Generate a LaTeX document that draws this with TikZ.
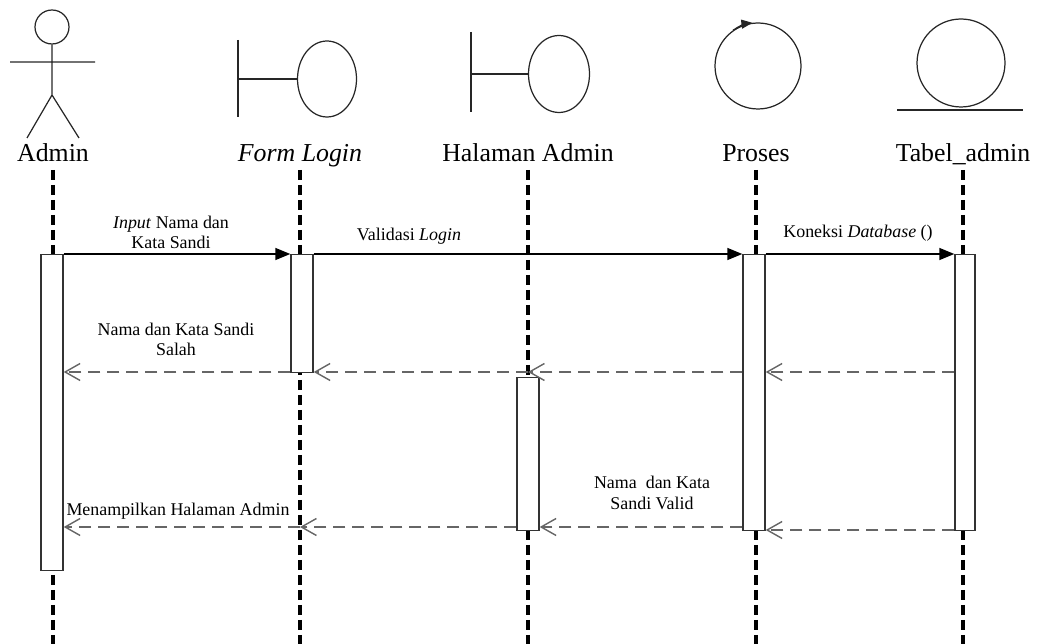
\documentclass[tikz,border=0pt]{standalone}
\usepackage{fontspec}
\setmainfont{Liberation Serif}
\usetikzlibrary{positioning, arrows.meta, shapes.geometric}

\begin{document}
\begin{tikzpicture}[x=0.02cm, y=-0.02cm,
        head_label/.style={font=\fontsize{14.7}{17}\selectfont, inner sep=0pt, anchor=base},
        msg_label/.style={font=\fontsize{10.2}{11.5}\selectfont, align=center, inner sep=0pt},
        head_shape/.style={draw=black!85, line width=0.7pt, inner sep=0pt},
        life_line/.style={black, line width=2pt, dash pattern=on 2mm off 1mm},
        act_box/.style={rectangle, draw=black!80, fill=white, line width=0.8pt, minimum width=0.44cm, inner sep=0pt, anchor=north},
        call_msg/.style={black, line width=0.8pt, -{Triangle[length=3mm, width=2.4mm]}},
        return_msg/.style={black!60, line width=0.8pt, dash pattern=on 2.4mm off 1.4mm, -{Straight Barb[length=3mm, width=3.4mm]}}
        ]
            \useasboundingbox (0,0) rectangle (1041,644);

            % heads
            \node[head_shape, circle, minimum size=0.68cm]             (hAdm) at (52,27)  {};
            \draw[head_shape] (hAdm.south) -- (52,95) (10,62) -- (95,62) (27,138) -- (52,95) -- (79,138);
            \node[head_shape, ellipse, minimum width=1.18cm, minimum height=1.52cm] (bFrm) at (327,79) {};
            \draw[head_shape] (238,40) -- (238,117) (238,79) -- (bFrm.west);
            \node[head_shape, ellipse, minimum width=1.22cm, minimum height=1.54cm] (bHal) at (559,74) {};
            \draw[head_shape] (471,32) -- (471,112) (471,74) -- (bHal.west);
            \node[head_shape, circle, minimum size=1.72cm]              (cPro) at (758,66) {};
            \draw[head_shape, -{Triangle[length=2.2mm, width=1.8mm]}] (cPro.125) arc[start angle=125, end angle=97, radius=0.86cm];
            \node[head_shape, circle, minimum size=1.76cm]              (eTab) at (961,63) {};
            \draw[head_shape] (897,110) -- (1023,110);

            % names
            \node[head_label]                (lAdm) at (53,162)  {Admin};
            \node[head_label, font=\fontsize{14.7}{17}\selectfont\itshape] (lFrm) at (300,162) {Form Login};
            \node[head_label]                (lHal) at (528,162) {Halaman Admin};
            \node[head_label]                (lPro) at (756,162) {Proses};
            \node[head_label]                (lTab) at (963,162) {Tabel\_admin};

            % lifelines
            \coordinate (top) at (0,170);
            \coordinate (bot) at (0,646);
            \foreach \who in {lAdm, lFrm, lHal, lPro, lTab}
                \draw[life_line] (\who |- top) -- (\who |- bot);

            % activations
            \node[act_box, minimum height=6.32cm] (aAdm) at (52,254)  {};
            \node[act_box, minimum height=2.36cm] (aFrm) at (302,254) {};
            \node[act_box, minimum height=3.06cm] (aHal) at (528,377) {};
            \node[act_box, minimum height=5.52cm] (aPro) at (754,254) {};
            \node[act_box, minimum height=5.52cm, minimum width=0.40cm] (aTab) at (965,254) {};

            % calls
            \draw[call_msg] (aAdm.north east) -- (aFrm.north west);
            \draw[call_msg] (aFrm.north east) -- (aPro.north west);
            \draw[call_msg] (aPro.north east) -- (aTab.north west);

            % returns
            \coordinate (r1)  at (0,372);
            \coordinate (r2)  at (0,527);
            \coordinate (r2t) at (0,530);
            \draw[return_msg] (aTab.west |- r1) -- (aPro.east |- r1);
            \draw[return_msg] (aPro.west |- r1) -- (lHal |- r1);
            \draw[return_msg] (lHal |- r1) -- (aFrm.east |- r1);
            \draw[return_msg] (aFrm.west |- r1) -- (aAdm.east |- r1);
            \draw[return_msg] (aTab.west |- r2t) -- (aPro.east |- r2t);
            \draw[return_msg] (aPro.west |- r2) -- (aHal.east |- r2);
            \draw[return_msg] (aHal.west |- r2) -- (lFrm |- r2);
            \draw[return_msg] (lFrm |- r2) -- (aAdm.east |- r2);

            % text
            \node[msg_label] (mInput)  at (171,232) {\textit{Input} Nama dan\\Kata Sandi};
            \node[msg_label] (mLogin)  at (409,236) {Validasi \textit{Login}};
            \node[msg_label] (mKon)    at (858,233) {Koneksi \textit{Database} ()};
            \node[msg_label] (mSalah)  at (176,339) {Nama dan Kata Sandi\\Salah};
            \node[msg_label] (mTampil) at (178,511) {Menampilkan Halaman Admin};
            \node[msg_label] (mValid)  at (652,493) {Nama\ \ dan Kata\\Sandi Valid};
        \end{tikzpicture}
\end{document}
